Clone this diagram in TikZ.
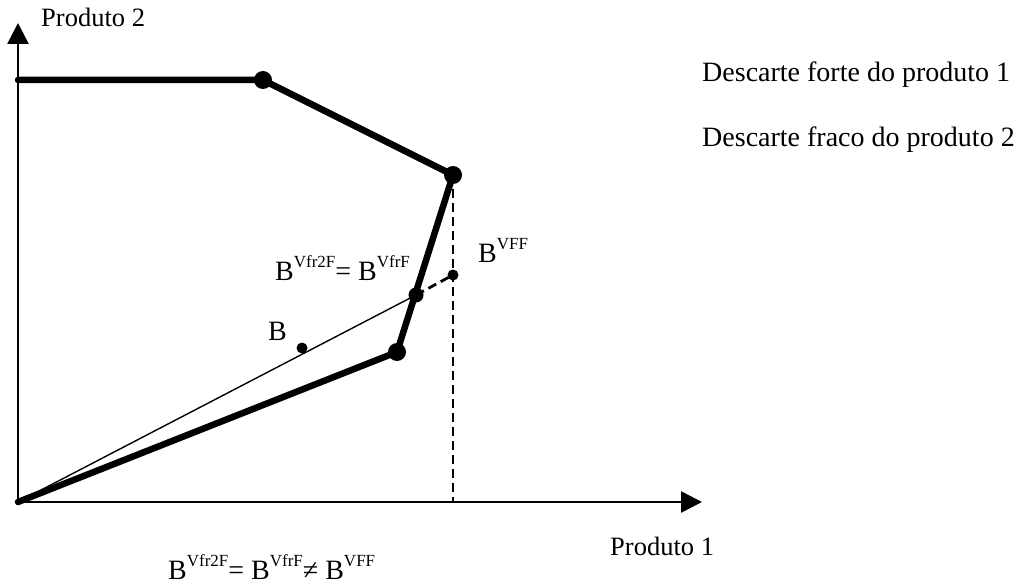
\documentclass[tikz,border=0pt]{standalone}
\usepackage{fontspec}
\setmainfont{Liberation Serif}
\usetikzlibrary{arrows.meta}
\newcommand{\Bsup}[1]{B\raisebox{0.45em}{\fontsize{17}{17}\selectfont #1}}
\tikzset{
  axis/.style={line width=2.6pt,-{Triangle[length=21pt,width=21pt]}},
  frontier/.style={line width=6.5pt,line join=round,line cap=round},
  ray/.style={line width=1.4pt},
  dashline/.style={line width=2.8pt,dash pattern=on 9pt off 5pt},
  bigdot/.style={circle,fill=black,inner sep=0pt,minimum size=18pt},
  middot/.style={circle,fill=black,inner sep=0pt,minimum size=15pt},
  smalldot/.style={circle,fill=black,inner sep=0pt,minimum size=11pt},
  lbl/.style={font=\fontsize{28}{30}\selectfont,inner sep=0pt,anchor=base west},
  axlbl/.style={font=\fontsize{26.5}{28}\selectfont,inner sep=0pt,anchor=base west}
}
\begin{document}
\begin{tikzpicture}[x=1pt,y=-1pt]
\useasboundingbox[fill=white] (0,0) rectangle (1032,588);
% key points
\coordinate (O) at (18,502);
\coordinate (ytip) at (18,23);
\coordinate (xtip) at (702,502);
\coordinate (P0) at (18,80);
\coordinate (xfoot) at (453,502);
% axes
\draw[axis] (O) -- (ytip);
\draw[axis] (O) -- (xtip);
% dashed vertical
\draw[dashline] (453,175) -- (xfoot);
% ray and dashed extension
\draw[ray] (O) -- (416,295);
\draw[dashline] (416,295) -- (453,275);
% frontier
\draw[frontier] (P0) -- (263,80) -- (453,175) -- (397,352) -- (O);
% dots
\node[bigdot] (A) at (263,80) {};
\node[bigdot] (C) at (453,175) {};
\node[bigdot] (D) at (397,352) {};
\node[middot] (E) at (416,295) {};
\node[smalldot] (F) at (453,275) {};
\node[smalldot] (G) at (302,348) {};
% labels
\node[axlbl] (l2) at (41,27) {Produto 2};
\node[axlbl] (l1) at (610,555) {Produto 1};
\node[lbl] (t1) at (702,82) {Descarte forte do produto 1};
\node[lbl] (t2) at (702,147) {Descarte fraco do produto 2};
\node[lbl] (bE) at (275,280) {\Bsup{Vfr2F}= \Bsup{VfrF}};
\node[lbl] (bF) at (478,262) {\Bsup{VFF}};
\node[lbl] (bG) at (268,340) {B};
\node[lbl] (bot) at (168,579) {\Bsup{Vfr2F}= \Bsup{VfrF}≠ \Bsup{VFF}};
\end{tikzpicture}
\end{document}
